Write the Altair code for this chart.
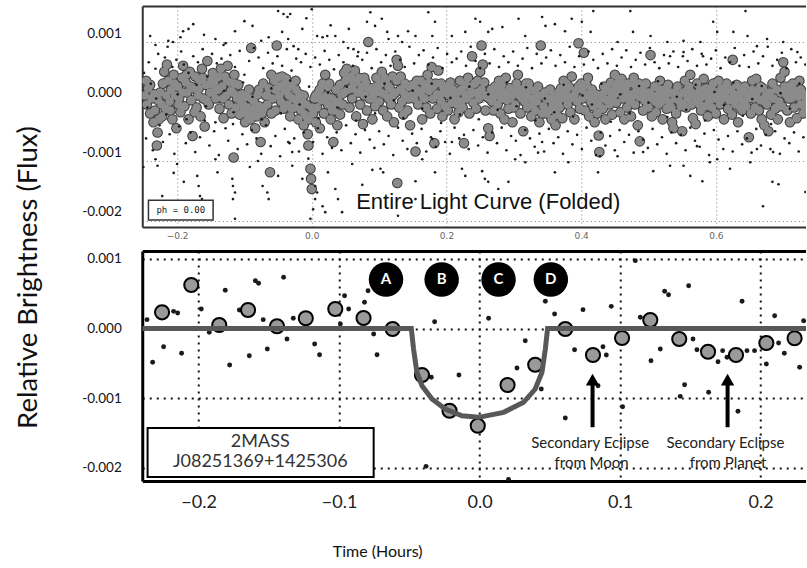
import altair as alt
import pandas as pd

# ---------------- TOP PANEL: entire light curve, folded (phase, flux in units of 0.001) ----------------
top_big = [
    (-0.248, 0.10), (-0.245, -0.05), (-0.243, 0.22), (-0.240, -0.20), (-0.238, 0.05), (-0.235, -0.35),
    (-0.233, -0.15), (-0.230, -0.74), (-0.229, -0.52), (-0.227, -0.30), (-0.225, 0.15), (-0.223, -0.05),
    (-0.221, 0.30), (-0.219, 0.50), (-0.217, -0.12), (-0.215, 0.62), (-0.213, 0.35), (-0.211, 0.00),
    (-0.209, 0.20), (-0.207, -0.30), (-0.205, 0.45), (-0.203, 0.10), (-0.201, -0.45),
    (-0.199, 0.25), (-0.197, 0.05), (-0.195, -0.18), (-0.193, 0.40), (-0.191, 0.60), (-0.189, -0.08),
    (-0.187, 0.32), (-0.185, 0.15), (-0.183, -0.30), (-0.181, 0.50), (-0.179, 0.02), (-0.177, -0.58),
    (-0.175, 0.22), (-0.173, 0.42), (-0.171, -0.10), (-0.169, 0.10), (-0.167, 0.35), (-0.165, -0.25),
    (-0.163, 0.55), (-0.161, 0.05), (-0.159, -0.42), (-0.157, 0.28), (-0.155, 0.68), (-0.153, -0.05),
    (-0.151, 0.15),
    (-0.149, 0.38), (-0.147, 0.48), (-0.145, 0.30), (-0.143, 0.05), (-0.141, 0.40), (-0.139, 0.20),
    (-0.137, -0.12), (-0.135, 0.55), (-0.133, 0.25), (-0.131, -0.28), (-0.129, 0.42), (-0.127, 0.10),
    (-0.125, 0.60), (-0.123, -0.05), (-0.121, 0.32), (-0.119, -0.20), (-0.117, 0.15), (-0.116, -0.94),
    (-0.115, 0.45), (-0.113, -0.10), (-0.111, 0.05), (-0.109, 0.28), (-0.107, -0.22), (-0.105, 0.00),
    (-0.103, 0.12),
    (-0.101, -0.15), (-0.099, -0.35), (-0.097, 0.08), (-0.095, -0.10), (-0.093, 0.20), (-0.091, -0.30),
    (-0.090, 0.90), (-0.088, -0.18), (-0.086, 0.00), (-0.084, -0.45), (-0.082, -0.25), (-0.080, 0.12),
    (-0.078, -0.08), (-0.076, -0.68), (-0.074, -0.20), (-0.072, 0.30), (-0.070, -0.35), (-0.068, 0.10),
    (-0.066, -0.05), (-0.064, 0.22), (-0.062, -1.19), (-0.060, 0.45), (-0.058, 0.05), (-0.056, 0.35),
    (-0.054, -0.15), (-0.052, 0.94), (-0.050, 0.40),
    (-0.048, 0.25), (-0.046, 0.00), (-0.044, 0.42), (-0.042, -0.12), (-0.040, 0.18), (-0.038, 0.38),
    (-0.036, -0.05), (-0.034, 0.10), (-0.032, -0.25), (-0.030, 0.30), (-0.028, 0.05), (-0.026, -0.10),
    (-0.024, 0.20), (-0.022, 0.02), (-0.020, -0.30), (-0.018, 0.12), (-0.016, -0.15), (-0.014, 0.00),
    (-0.012, -0.40), (-0.010, -0.22), (-0.008, -0.05), (-0.006, -0.55), (-0.005, -0.74), (-0.004, -0.30),
    (-0.002, -1.13), (-0.001, -1.30), (0.000, -1.47),
    (0.002, -0.20), (0.004, 0.05), (0.006, -0.35), (0.008, -0.10), (0.010, 0.15), (0.012, -0.45),
    (0.014, 0.02), (0.016, 0.30), (0.018, -0.20), (0.020, 0.45), (0.022, 0.10), (0.024, -0.05),
    (0.026, 0.30), (0.028, -0.30), (0.030, 0.05), (0.032, -0.68), (0.034, -0.15), (0.036, 0.20),
    (0.038, -0.40), (0.040, 0.00), (0.042, -0.22), (0.044, 0.12), (0.046, -0.05), (0.048, 0.48),
    (0.050, 0.35), (0.052, 0.55), (0.054, 0.20), (0.056, -0.10), (0.058, 0.42), (0.060, 0.05),
    (0.062, 0.30), (0.064, 0.52), (0.066, -0.25), (0.068, 0.15), (0.070, 0.40), (0.072, -0.05),
    (0.074, 0.25), (0.076, -0.38), (0.078, 0.10), (0.080, 0.32), (0.082, -0.15), (0.084, 1.00),
    (0.086, 0.05), (0.088, 0.22), (0.090, -0.30), (0.092, 0.12), (0.094, -0.08), (0.096, 0.40),
    (0.098, 0.20),
    (0.100, 0.00), (0.102, 0.30), (0.104, 0.50), (0.106, -0.15), (0.108, 0.12), (0.110, 0.35),
    (0.112, -0.25), (0.114, 0.05), (0.116, 0.22), (0.118, -0.05), (0.120, 0.42), (0.122, -0.35),
    (0.124, 0.15), (0.126, 0.70), (0.127, -1.37), (0.128, 0.60), (0.130, -0.10), (0.132, 0.20),
    (0.134, 0.00), (0.136, -0.22), (0.138, 0.30), (0.140, 0.08), (0.142, -0.15), (0.144, 0.25),
    (0.146, -0.40), (0.148, 0.10),
    (0.150, 0.28), (0.152, 0.05), (0.154, -0.84), (0.156, 0.20), (0.158, -0.05), (0.160, 0.15),
    (0.162, 0.35), (0.164, -0.30), (0.166, 0.05), (0.168, 0.25), (0.170, -0.10), (0.172, 0.45),
    (0.174, 0.18), (0.176, -0.20), (0.178, 0.58), (0.180, 0.05), (0.182, -0.70), (0.184, 0.30),
    (0.186, -0.12), (0.188, 0.52), (0.190, 0.10), (0.192, 0.00), (0.194, -0.25), (0.196, 0.22),
    (0.198, -0.08),
    (0.200, 0.25), (0.202, -0.15), (0.204, 0.10), (0.206, 0.32), (0.208, -0.02), (0.210, 0.20),
    (0.212, -0.30), (0.214, 0.05), (0.216, 0.15), (0.218, -0.18), (0.220, 0.35), (0.222, 0.00),
    (0.224, -0.10), (0.226, -0.70), (0.228, 0.28), (0.230, 0.05), (0.232, 0.40), (0.234, -0.20),
    (0.236, 0.12), (0.238, 0.76), (0.240, -0.02), (0.242, 0.30), (0.244, -0.12), (0.246, 0.15),
    (0.248, 0.05),
    (0.250, 0.50), (0.252, 0.94), (0.254, 0.62), (0.256, 0.32), (0.258, -0.15), (0.260, 0.08),
    (0.262, -0.45), (0.264, -0.58), (0.266, 0.20), (0.268, 0.00), (0.270, -0.15), (0.272, 0.25),
    (0.274, 0.10), (0.276, -0.05), (0.278, 0.35), (0.280, -0.20), (0.282, 0.05), (0.284, 0.15),
    (0.286, -0.30), (0.288, 0.40), (0.290, 0.02), (0.292, -0.12), (0.294, 0.22), (0.296, 0.08),
    (0.298, -0.35),
    (0.300, 0.15), (0.302, -0.05), (0.304, 0.30), (0.306, 0.45), (0.308, 0.10), (0.310, -0.20),
    (0.312, 0.20), (0.314, -0.50), (0.316, 0.00), (0.318, 0.12), (0.320, -0.10), (0.322, 0.30),
    (0.324, 0.05), (0.326, -0.25), (0.328, -0.05), (0.330, 0.18), (0.332, -0.15), (0.334, 0.00),
    (0.336, 0.25), (0.338, -0.35), (0.340, 0.94), (0.342, 0.10), (0.344, -0.08), (0.346, 0.15),
    (0.348, -0.20),
    (0.350, 0.05), (0.352, -0.15), (0.354, 0.20), (0.356, -0.30), (0.358, -0.05), (0.360, 0.10),
    (0.362, -0.40), (0.364, -0.22), (0.366, 0.00), (0.368, -0.10), (0.370, 0.22), (0.372, -0.28),
    (0.374, 0.35), (0.376, 0.05), (0.378, 0.15), (0.380, -0.05), (0.382, 0.25), (0.384, -0.18),
    (0.386, 0.42), (0.388, 0.08), (0.390, -0.30), (0.392, 0.18), (0.394, 0.00), (0.396, 0.98),
    (0.398, -0.12),
    (0.400, 0.30), (0.402, 0.05), (0.404, 0.82), (0.406, -0.15), (0.408, 0.10), (0.410, 0.40),
    (0.412, -0.25), (0.414, 0.00), (0.416, 0.20), (0.418, -0.08), (0.420, -0.35), (0.422, 0.12),
    (0.424, -0.20), (0.426, -0.57), (0.427, -0.85), (0.430, 0.05), (0.432, -0.12), (0.434, 0.25),
    (0.436, -0.30), (0.438, 0.02), (0.440, 0.18), (0.442, -0.05), (0.444, 0.32), (0.446, -0.22),
    (0.448, 0.10),
    (0.450, 0.45), (0.452, -0.02), (0.454, 0.28), (0.456, 0.15), (0.458, -0.18), (0.460, 0.38),
    (0.462, 0.05), (0.464, -0.30), (0.466, 0.20), (0.468, -0.10), (0.470, 0.30), (0.472, 0.00),
    (0.474, -0.25), (0.476, 0.12), (0.478, 0.40), (0.480, -0.05), (0.482, 0.18), (0.484, -0.40),
    (0.486, 0.08), (0.487, -0.67), (0.490, 0.22), (0.492, -0.15), (0.494, 0.02), (0.496, 0.30),
    (0.498, -0.08),
    (0.500, -0.10), (0.502, 0.15), (0.503, 0.78), (0.505, -0.25), (0.507, 0.05), (0.509, 0.25),
    (0.511, -0.18), (0.513, 0.10), (0.515, -0.05), (0.517, 0.35), (0.519, 0.00), (0.521, -0.30),
    (0.523, 0.20), (0.525, 0.08), (0.527, -0.12), (0.529, 0.28), (0.531, -0.02), (0.533, 0.15),
    (0.535, -0.35), (0.537, -0.45), (0.539, 0.05), (0.541, -0.20), (0.543, 0.25), (0.545, 0.10),
    (0.548, -0.08),
    (0.550, -0.50), (0.552, 0.15), (0.554, 0.35), (0.556, -0.10), (0.558, 0.05), (0.560, 0.25),
    (0.562, 0.45), (0.564, -0.05), (0.566, -0.28), (0.568, 0.12), (0.570, -0.38), (0.572, 0.30),
    (0.574, 0.00), (0.576, 0.18), (0.578, -0.15), (0.580, 0.08), (0.582, 0.38), (0.584, -0.08),
    (0.586, 0.22), (0.588, -0.25), (0.590, 0.00), (0.592, 0.12), (0.594, -0.10), (0.596, 0.30),
    (0.598, 0.05),
    (0.600, -0.20), (0.602, 0.15), (0.604, 0.35), (0.606, -0.05), (0.608, 0.22), (0.610, 0.05),
    (0.612, -0.30), (0.614, 0.10), (0.616, 0.30), (0.618, -0.12), (0.620, 0.02), (0.622, 0.20),
    (0.624, -0.22), (0.625, 0.70), (0.627, 0.12), (0.629, -0.05), (0.631, 0.28), (0.633, -0.35),
    (0.635, 0.05), (0.637, 0.18), (0.639, -0.15), (0.641, 0.00), (0.643, 0.25), (0.645, -0.08),
    (0.649, -0.60),
    (0.650, 0.10), (0.652, -0.20), (0.654, 0.35), (0.656, 0.05), (0.658, -0.10), (0.660, 0.38),
    (0.662, 0.18), (0.664, -0.15), (0.666, 0.02), (0.668, -0.30), (0.670, 0.22), (0.672, -0.40),
    (0.674, 0.10), (0.676, -0.05), (0.678, -0.50), (0.680, 0.15), (0.682, -0.22), (0.684, 0.30),
    (0.686, 0.05), (0.688, -0.12), (0.690, 0.20), (0.692, -0.30), (0.694, 0.00), (0.696, 0.40),
    (0.698, -0.08), (0.700, 0.66), (0.702, 0.50), (0.704, 0.12), (0.706, -0.15), (0.708, 0.25),
    (0.710, -0.35), (0.712, 0.05), (0.714, 0.30), (0.716, -0.10), (0.718, 0.18), (0.720, -0.28),
    (0.722, 0.08), (0.724, 0.35), (0.726, -0.05), (0.728, 0.15), (0.730, -0.20), (0.732, 0.10),
    (0.734, 0.02),
]

# further binned points filling the dense core of the band
top_big_core = [
    (-0.246, 0.35), (-0.240, 0.28), (-0.234, 0.12), (-0.228, 0.02), (-0.222, -0.25), (-0.216, 0.10),
    (-0.210, -0.15), (-0.204, 0.30), (-0.198, -0.05), (-0.192, 0.15), (-0.186, 0.45), (-0.180, 0.25),
    (-0.174, -0.18), (-0.168, 0.22), (-0.162, 0.40), (-0.156, 0.02), (-0.150, 0.30), (-0.144, 0.18),
    (-0.138, 0.42), (-0.132, 0.05), (-0.126, 0.35), (-0.120, 0.18), (-0.114, 0.30), (-0.108, 0.10),
    (-0.102, -0.05), (-0.096, -0.22), (-0.090, 0.05), (-0.084, -0.12), (-0.078, 0.20), (-0.072, -0.12),
    (-0.066, 0.10), (-0.060, -0.20), (-0.054, 0.20), (-0.048, 0.10), (-0.042, 0.28), (-0.036, 0.22),
    (-0.030, -0.12), (-0.024, 0.35), (-0.018, -0.10), (-0.012, 0.10), (-0.006, -0.30), (0.000, -0.10),
    (0.006, 0.10), (0.012, 0.20), (0.018, 0.05), (0.024, 0.25), (0.030, -0.15), (0.036, -0.05),
    (0.042, 0.28), (0.048, 0.15), (0.054, 0.40), (0.060, 0.22), (0.066, 0.35), (0.072, 0.15),
    (0.078, 0.40), (0.084, 0.20), (0.090, 0.05), (0.096, 0.25), (0.102, 0.15), (0.108, 0.40),
    (0.114, 0.25), (0.120, 0.10), (0.126, 0.35), (0.132, 0.42), (0.138, 0.12), (0.144, 0.05),
    (0.150, 0.10), (0.156, 0.35), (0.162, 0.15), (0.168, 0.05), (0.174, 0.32), (0.180, 0.25),
    (0.186, 0.12), (0.192, 0.30), (0.198, 0.15), (0.204, 0.25), (0.210, 0.05), (0.216, -0.05),
    (0.222, 0.20), (0.228, 0.12), (0.234, 0.25), (0.240, 0.15), (0.246, 0.35), (0.252, 0.20),
    (0.258, 0.10), (0.264, 0.05), (0.270, 0.10), (0.276, 0.22), (0.282, 0.28), (0.288, 0.15),
    (0.294, 0.05), (0.300, -0.10), (0.306, 0.20), (0.312, 0.05), (0.318, 0.30), (0.324, 0.20),
    (0.330, 0.05), (0.336, 0.10), (0.342, -0.20), (0.348, 0.05), (0.354, 0.05), (0.360, -0.15),
    (0.366, 0.15), (0.372, 0.10), (0.378, 0.30), (0.384, 0.05), (0.390, 0.10), (0.396, 0.25),
    (0.402, 0.20), (0.408, 0.28), (0.414, 0.15), (0.420, 0.05), (0.426, -0.05), (0.432, 0.12),
    (0.438, 0.22), (0.444, 0.05), (0.450, 0.20), (0.456, 0.35), (0.462, 0.25), (0.468, 0.10),
    (0.474, 0.05), (0.480, 0.28), (0.486, 0.30), (0.492, 0.12), (0.498, 0.15), (0.504, 0.05),
    (0.510, 0.00), (0.516, 0.20), (0.522, 0.10), (0.528, 0.15), (0.534, -0.10), (0.540, 0.15),
    (0.546, 0.00), (0.552, -0.05), (0.558, 0.20), (0.564, 0.15), (0.570, 0.05), (0.576, -0.05),
    (0.582, 0.20), (0.588, 0.10), (0.594, 0.20), (0.600, 0.05), (0.606, 0.12), (0.612, 0.15),
    (0.618, 0.20), (0.624, 0.05), (0.630, 0.10), (0.636, -0.10), (0.642, 0.15), (0.648, 0.05),
    (0.654, 0.20), (0.660, 0.10), (0.666, 0.25), (0.672, 0.00), (0.678, 0.10), (0.684, 0.05),
    (0.690, -0.10), (0.696, 0.15), (0.702, 0.25), (0.708, 0.05), (0.714, 0.15), (0.720, 0.10),
    (0.726, 0.20), (0.732, -0.10),
]

top_small = [
    # dots rimming the band
    (-0.249, 0.48), (-0.246, -0.62), (-0.242, 0.66), (-0.239, 0.30), (-0.236, -0.82), (-0.232, 0.55),
    (-0.228, 0.80), (-0.226, -0.40), (-0.221, -0.68), (-0.218, 0.74), (-0.214, 0.92), (-0.211, -0.55),
    (-0.207, 0.58), (-0.204, -0.88), (-0.201, 0.70), (-0.197, -0.42), (-0.194, 0.84), (-0.190, 0.62),
    (-0.187, -0.70), (-0.183, 0.48), (-0.180, -0.52), (-0.176, 0.76), (-0.173, -0.85), (-0.169, 0.66),
    (-0.166, -0.60), (-0.162, 0.88), (-0.159, -0.32), (-0.155, 0.42), (-0.152, -0.74), (-0.148, 0.80),
    (-0.145, -0.50), (-0.141, 0.64), (-0.138, -0.90), (-0.134, 0.72), (-0.131, 0.95), (-0.128, -0.45),
    (-0.124, -0.66), (-0.121, 0.78), (-0.117, -0.38), (-0.114, 0.58), (-0.110, -0.80), (-0.107, 0.85),
    (-0.103, -0.55), (-0.100, 0.45), (-0.096, -0.72), (-0.093, 0.68), (-0.089, -0.48), (-0.086, 0.90),
    (-0.082, -0.62), (-0.079, 0.74), (-0.075, -0.88), (-0.072, 0.56), (-0.068, -0.40), (-0.065, 0.82),
    (-0.061, -0.75), (-0.058, 0.64), (-0.054, -0.58), (-0.051, 0.76), (-0.047, -0.92), (-0.044, 0.60),
    (-0.040, -0.46), (-0.037, 0.88), (-0.033, -0.70), (-0.030, 0.52), (-0.026, -0.62), (-0.023, 0.72),
    (-0.019, -0.84), (-0.016, 0.66), (-0.012, -0.52), (-0.009, 0.80), (-0.005, -0.96), (-0.002, 0.58),
    (0.002, -0.68), (0.005, 0.74), (0.009, -0.45), (0.012, 0.62), (0.016, -0.88), (0.019, 0.85),
    (0.023, -0.60), (0.026, 0.70), (0.030, -0.78), (0.033, 0.54), (0.037, -0.52), (0.040, 0.78),
    (0.044, -0.82), (0.047, 0.66), (0.051, -0.40), (0.054, 0.90), (0.058, -0.70), (0.061, 0.60),
    (0.065, -0.55), (0.068, 0.76), (0.072, -0.86), (0.075, 0.70), (0.079, -0.48), (0.082, 0.82),
    (0.086, -0.64), (0.089, 0.56), (0.093, -0.78), (0.096, 0.88), (0.100, -0.50), (0.103, 0.66),
    (0.107, -0.72), (0.110, 0.78), (0.114, -0.58), (0.117, 0.60), (0.121, -0.90), (0.124, 0.84),
    (0.128, -0.44), (0.131, 0.70), (0.135, -0.66), (0.138, 0.58), (0.142, -0.80), (0.145, 0.92),
    (0.149, -0.54), (0.152, 0.64), (0.156, -0.70), (0.159, 0.78), (0.163, -0.46), (0.166, 0.86),
    (0.170, -0.84), (0.173, 0.62), (0.177, -0.60), (0.180, 0.74), (0.184, -0.76), (0.187, 0.90),
    (0.191, -0.50), (0.194, 0.56), (0.198, -0.68), (0.201, 0.80), (0.205, -0.88), (0.208, 0.66),
    (0.212, -0.44), (0.215, 0.72), (0.219, -0.62), (0.222, 0.84), (0.226, -0.56), (0.229, 0.60),
    (0.233, -0.80), (0.236, 0.92), (0.240, -0.48), (0.243, 0.68), (0.247, -0.74), (0.250, 0.56),
    (0.254, -0.60), (0.257, 0.80), (0.261, -0.86), (0.264, 0.64), (0.268, -0.52), (0.271, 0.88),
    (0.275, -0.70), (0.278, 0.58), (0.282, -0.44), (0.285, 0.76), (0.289, -0.82), (0.292, 0.66),
    (0.296, -0.58), (0.299, 0.84), (0.303, -0.66), (0.306, 0.60), (0.310, -0.90), (0.313, 0.72),
    (0.317, -0.48), (0.320, 0.90), (0.324, -0.62), (0.327, 0.56), (0.331, -0.76), (0.334, 0.80),
    (0.338, -0.54), (0.341, 0.64), (0.345, -0.84), (0.348, 0.74), (0.352, -0.46), (0.355, 0.86),
    (0.359, -0.70), (0.362, 0.60), (0.366, -0.60), (0.369, 0.78), (0.373, -0.88), (0.376, 0.66),
    (0.380, -0.50), (0.383, 0.92), (0.387, -0.72), (0.390, 0.58), (0.394, -0.56), (0.397, 0.76),
    (0.401, -0.80), (0.404, 0.62), (0.408, -0.44), (0.411, 0.84), (0.415, -0.66), (0.418, 0.70),
    (0.422, -0.90), (0.425, 0.56), (0.429, -0.52), (0.432, 0.80), (0.436, -0.74), (0.439, 0.64),
    (0.443, -0.58), (0.446, 0.88), (0.450, -0.82), (0.453, 0.60), (0.457, -0.48), (0.460, 0.74),
    (0.464, -0.68), (0.467, 0.86), (0.471, -0.56), (0.474, 0.58), (0.478, -0.86), (0.481, 0.70),
    (0.485, -0.50), (0.488, 0.82), (0.492, -0.64), (0.495, 0.62), (0.499, -0.78), (0.502, 0.90),
    (0.506, -0.46), (0.509, 0.66), (0.513, -0.72), (0.516, 0.56), (0.520, -0.60), (0.523, 0.78),
    (0.527, -0.88), (0.530, 0.64), (0.534, -0.52), (0.537, 0.84), (0.541, -0.70), (0.544, 0.58),
    (0.548, -0.56), (0.551, 0.76), (0.555, -0.82), (0.558, 0.68), (0.562, -0.44), (0.565, 0.88),
    (0.569, -0.66), (0.572, 0.60), (0.576, -0.76), (0.579, 0.80), (0.583, -0.54), (0.586, 0.62),
    (0.590, -0.90), (0.593, 0.72), (0.597, -0.48), (0.600, 0.86), (0.604, -0.64), (0.607, 0.56),
    (0.611, -0.80), (0.614, 0.74), (0.618, -0.58), (0.621, 0.66), (0.625, -0.84), (0.628, 0.90),
    (0.632, -0.50), (0.635, 0.60), (0.639, -0.72), (0.642, 0.78), (0.646, -0.62), (0.649, 0.58),
    (0.653, -0.86), (0.656, 0.84), (0.660, -0.46), (0.663, 0.64), (0.667, -0.74), (0.670, 0.76),
    (0.674, -0.56), (0.677, 0.92), (0.681, -0.80), (0.684, 0.60), (0.688, -0.50), (0.691, 0.70),
    (0.695, -0.88), (0.698, 0.82), (0.702, -0.62), (0.705, 0.56), (0.709, -0.70), (0.712, 0.88),
    (0.716, -0.52), (0.719, 0.66), (0.723, -0.84), (0.726, 0.74), (0.730, -0.60), (0.733, 0.62),
    # dots inside the band
    (-0.244, -0.10), (-0.231, 0.05), (-0.216, -0.22), (-0.199, 0.12), (-0.186, -0.30), (-0.171, 0.28),
    (-0.157, -0.08), (-0.143, -0.35), (-0.130, 0.18), (-0.116, -0.18), (-0.102, 0.32), (-0.088, 0.08),
    (-0.074, -0.30), (-0.060, 0.22), (-0.046, -0.20), (-0.032, 0.35), (-0.018, -0.05), (-0.004, 0.25),
    (0.010, -0.28), (0.024, 0.15), (0.038, -0.10), (0.052, 0.25), (0.066, -0.32), (0.080, 0.08),
    (0.094, -0.20), (0.108, 0.30), (0.122, 0.02), (0.136, -0.28), (0.150, 0.18), (0.164, -0.12),
    (0.178, 0.30), (0.192, -0.36), (0.206, 0.06), (0.220, -0.22), (0.234, 0.25), (0.248, -0.30),
    (0.262, 0.12), (0.276, -0.14), (0.290, 0.32), (0.304, -0.08), (0.318, 0.24), (0.332, -0.32),
    (0.346, 0.05), (0.360, -0.18), (0.374, 0.28), (0.388, -0.25), (0.402, 0.10), (0.416, -0.05),
    (0.430, 0.30), (0.444, -0.34), (0.458, 0.12), (0.472, -0.20), (0.486, 0.26), (0.500, -0.02),
    (0.514, 0.34), (0.528, -0.26), (0.542, 0.08), (0.556, -0.14), (0.570, 0.28), (0.584, -0.32),
    (0.598, 0.16), (0.612, -0.06), (0.626, 0.32), (0.640, -0.24), (0.654, 0.04), (0.668, 0.26),
    (0.682, -0.38), (0.696, 0.14), (0.710, -0.12), (0.724, 0.30),
    # scattered dots above the band
    (-0.240, 1.10), (-0.232, 0.95), (-0.213, 1.02), (-0.206, 1.00), (-0.195, 1.08), (-0.191, 1.18),
    (-0.183, 1.22), (-0.176, 1.30), (-0.160, 1.12), (-0.143, 1.05), (-0.128, 0.98), (-0.114, 1.18),
    (-0.100, 1.35), (-0.088, 1.27), (-0.075, 1.02), (-0.064, 1.08), (-0.050, 1.52), (-0.044, 1.17),
    (-0.042, 1.47), (-0.036, 1.42), (-0.035, 1.05), (-0.032, 1.47), (-0.027, 0.93), (-0.020, 0.88),
    (-0.014, 1.22), (-0.008, 1.40), (0.000, 1.55), (0.008, 1.10), (0.016, 1.08), (0.023, 1.10),
    (0.028, 1.28), (0.035, 1.10), (0.047, 1.00), (0.055, 1.22), (0.062, 0.88), (0.069, 0.83),
    (0.082, 1.34), (0.087, 1.50), (0.094, 1.27), (0.104, 1.39), (0.112, 1.17), (0.114, 1.05),
    (0.128, 1.10), (0.134, 1.00), (0.143, 1.18), (0.154, 1.10), (0.173, 1.50), (0.179, 1.10),
    (0.183, 1.34), (0.208, 1.10), (0.228, 1.17), (0.243, 1.39), (0.250, 1.34), (0.262, 1.17),
    (0.268, 1.22), (0.283, 1.25), (0.307, 1.39), (0.317, 1.10), (0.342, 1.42), (0.347, 1.27),
    (0.361, 1.30), (0.376, 1.18), (0.386, 1.39), (0.401, 1.34), (0.414, 1.17), (0.418, 1.52),
    (0.454, 1.00), (0.473, 1.52), (0.477, 1.17), (0.503, 1.10), (0.528, 1.00), (0.532, 0.76),
    (0.552, 1.02), (0.552, 0.83), (0.577, 1.00), (0.581, 0.76), (0.596, 1.34), (0.602, 1.17),
    (0.626, 1.17), (0.644, 1.52), (0.647, 1.10), (0.661, 0.93), (0.676, 1.05), (0.700, 1.00),
    (0.721, 0.83),
    # scattered dots below the band
    (-0.250, -1.10), (-0.232, -0.97), (-0.229, -1.08), (-0.225, -1.70), (-0.222, -1.59), (-0.205, -1.20),
    (-0.200, -1.05), (-0.190, -1.35), (-0.170, -1.25), (-0.168, -1.42), (-0.166, -1.59), (-0.163, -1.64),
    (-0.143, -0.97), (-0.140, -1.19), (-0.118, -1.30), (-0.117, -1.42), (-0.114, -1.53), (-0.117, -1.64),
    (-0.114, -1.97), (-0.092, -1.10), (-0.080, -1.00), (-0.073, -1.42), (-0.066, -1.53), (-0.064, -1.64),
    (-0.050, -1.25), (-0.035, -0.68), (-0.029, -0.85), (-0.029, -1.08), (-0.014, -1.30), (-0.002, -1.97),
    (0.002, -1.81), (0.005, -1.42), (0.008, -1.53), (0.005, -1.64), (0.016, -1.76), (0.020, -1.86),
    (0.024, -1.19), (0.035, -1.47), (0.039, -1.64), (0.045, -1.86), (0.060, -1.05), (0.075, -1.40),
    (0.090, -1.15), (0.102, -1.13), (0.106, -1.19), (0.128, -1.92), (0.154, -1.34), (0.154, -1.64),
    (0.164, -0.97), (0.179, -0.63), (0.183, -1.19), (0.208, -0.68), (0.223, -1.13), (0.228, -1.25),
    (0.253, -1.17), (0.257, -1.30), (0.262, -1.35), (0.277, -1.47), (0.292, -1.35), (0.302, -0.97),
    (0.317, -1.02), (0.336, -0.86), (0.342, -0.68), (0.361, -1.19), (0.381, -1.02), (0.425, -1.19),
    (0.428, -0.92), (0.454, -0.92), (0.492, -0.85), (0.507, -1.17), (0.532, -1.08), (0.552, -1.08),
    (0.562, -1.25), (0.572, -0.75), (0.580, -1.34), (0.591, -1.02), (0.602, -0.97), (0.621, -1.13),
    (0.651, -1.02), (0.661, -0.80), (0.670, -1.76), (0.684, -1.35), (0.685, -0.85), (0.693, -1.39),
    (0.733, -1.52),
]

# annotation boxes / labels of the top panel
ph_box = [(-0.2425, -0.1465, -1.66, -1.99)]
ph_label = [(-0.1945, -1.83, "ph = 0.00")]
top_caption = [(0.262, -1.69, "Entire Light Curve (Folded)")]

# ---------------- BOTTOM PANEL: transit (hours, flux in units of 0.001) ----------------
bot_big = [
    (-0.2260, 0.233), (-0.2052, 0.626), (-0.1853, 0.050), (-0.1648, 0.266), (-0.1442, 0.032),
    (-0.1237, 0.148), (-0.1027, 0.281), (-0.0826, 0.151), (-0.0619, -0.007), (-0.0410, -0.669),
    (-0.0214, -1.183), (-0.0013, -1.399), (0.0199, -0.813), (0.0396, -0.521), (0.0610, -0.007),
    (0.0807, -0.381), (0.1014, -0.137), (0.1215, 0.122), (0.1421, -0.151), (0.1626, -0.334),
    (0.1825, -0.381), (0.2041, -0.209), (0.2242, -0.141),
]

bot_small = [
    (-0.2367, 0.127), (-0.2327, -0.486), (-0.2249, -0.262), (-0.2178, 0.247), (-0.2149, 0.223),
    (-0.2121, -0.357), (-0.1981, 0.281), (-0.1924, -0.055), (-0.1810, 0.550), (-0.1779, -0.525),
    (-0.1710, 0.266), (-0.1639, -0.391), (-0.1596, 0.688), (-0.1573, 0.650), (-0.1540, 0.127),
    (-0.1511, -0.295), (-0.1395, 0.737), (-0.1371, -0.151), (-0.1326, 0.147), (-0.1174, -0.223),
    (-0.1139, -0.377), (-0.0991, 0.065), (-0.0961, 0.472), (-0.0932, 0.281), (-0.0819, 0.377),
    (-0.0794, 0.544), (-0.0754, -0.079), (-0.0730, -0.377), (-0.0381, -1.983), (-0.0344, -0.702),
    (-0.0320, 0.098), (-0.0147, -0.669), (0.0064, 0.147), (0.0206, -2.170), (0.0266, -0.568),
    (0.0325, -0.176), (0.0439, -0.871), (0.0468, 0.391), (0.0534, 0.209), (0.0610, -1.288),
    (0.0676, -0.305), (0.0736, 0.271), (0.0843, -0.823), (0.0878, -0.262), (0.0902, -0.381),
    (0.0937, 0.319), (0.1018, -1.125), (0.1108, 0.976), (0.1144, 0.161), (0.1220, -0.463),
    (0.1286, -0.295), (0.1317, 0.535), (0.1345, 0.486), (0.1428, -0.976), (0.1459, -0.809),
    (0.1488, 0.616), (0.1519, -0.151), (0.1547, -0.305), (0.1630, -0.918), (0.1697, -0.478),
    (0.1730, -0.319), (0.1761, -0.414), (0.1839, -1.191), (0.1868, 0.391), (0.1903, -0.319),
    (0.1957, -0.319), (0.2041, -0.511), (0.2100, 0.184), (0.2128, -0.209), (0.2169, -0.357),
    (0.2278, -0.558), (0.2306, 0.112),
]

model_t = [-0.2401, -0.0486, -0.0470, -0.0446, -0.0410, -0.0339, -0.0244, -0.0125, -0.0007,
           0.0171, 0.0313, 0.0396, 0.0444, 0.0468, 0.0484, 0.2332]
model_f = [0.0, 0.0, -0.295, -0.630, -0.823, -1.014, -1.158, -1.255, -1.278,
           -1.206, -1.062, -0.871, -0.630, -0.295, 0.0, 0.0]

contact_labels = ["A", "B", "C", "D"]
contact_t = [-0.0666, -0.0270, 0.0135, 0.0507]
contact_f = [0.705, 0.705, 0.705, 0.705]

arrow_t = [0.0804, 0.1765]
arrow_top = [-0.76, -0.76]
arrow_bottom = [-1.42, -1.42]
arrow_head = [-0.735, -0.735]
arrow_text = [
    (0.0787, -1.647, "Secondary Eclipse"), (0.0797, -1.935, "from Moon"),
    (0.1750, -1.647, "Secondary Eclipse"), (0.1768, -1.935, "from Planet"),
]
star_box = [(-0.2363, -0.0754, -1.432, -2.137)]
star_text = [(-0.1561, -1.633, "2MASS"), (-0.1561, -1.921, "J08251369+1425306")]

# ---------------- data frames ----------------
df_tb = pd.DataFrame(top_big + top_big_core, columns=["t", "f"])
df_ts = pd.DataFrame(top_small, columns=["t", "f"])
df_phb = pd.DataFrame(ph_box, columns=["t", "t2", "f", "f2"])
df_phl = pd.DataFrame(ph_label, columns=["t", "f", "s"])
df_cap = pd.DataFrame(top_caption, columns=["t", "f", "s"])

df_bb = pd.DataFrame(bot_big, columns=["t", "f"])
df_bs = pd.DataFrame(bot_small, columns=["t", "f"])
df_model = pd.DataFrame({"t": model_t, "f": model_f})
df_contact = pd.DataFrame({"t": contact_t, "f": contact_f, "s": contact_labels})
df_arrow = pd.DataFrame({"t": arrow_t, "f": arrow_top, "f2": arrow_bottom, "fh": arrow_head})
df_atext = pd.DataFrame(arrow_text, columns=["t", "f", "s"])
df_sbox = pd.DataFrame(star_box, columns=["t", "t2", "f", "f2"])
df_stext = pd.DataFrame(star_text, columns=["t", "f", "s"])

W = 664
label_expr = "(datum.value < 0 ? '-' : '') + format(abs(datum.value) / 1000, '.3f')"

# ---------------- top panel ----------------
txs = alt.Scale(domain=[-0.2517, -0.2517 + W / 673.5], nice=False, zero=False)
tys = alt.Scale(domain=[-2.109, 1.605], nice=False, zero=False)

top_x_axis = alt.Axis(values=[-0.2, 0.0, 0.2, 0.4, 0.6], format=".1f", title=None,
                      labelFont="DejaVu Sans", labelFontSize=9, labelColor="#666",
                      ticks=False, tickSize=0, labelPadding=4, grid=True, gridDash=[1, 3],
                      gridColor="#777", gridWidth=1, domainColor="#333", domainWidth=2)
top_y_axis = alt.Axis(values=[1, 0, -1, -2], labelExpr=label_expr, title=None,
                      labelFont="Lato", labelFontSize=13.5, labelColor="#111", ticks=False,
                      tickSize=0, labelPadding=21, labelOffset=-9, grid=True, gridDash=[1, 3],
                      gridColor="#777", gridWidth=1, domainColor="#333", domainWidth=2)
top_frame_axis = alt.Axis(orient="top", labels=False, ticks=False, grid=False, title=None,
                          domainColor="#333", domainWidth=2)

def tx(field="t", axis=None):
    return alt.X(f"{field}:Q", scale=txs, axis=axis)

def ty(field="f", axis=None):
    return alt.Y(f"{field}:Q", scale=tys, axis=axis)

top_outline = alt.Chart(df_tb).mark_circle(size=112, color="#3a3a3a", opacity=1, clip=True).encode(
    x=tx(axis=top_frame_axis), y=ty())
top_fill = alt.Chart(df_tb).mark_circle(size=74, color="#8b8b8b", opacity=1, clip=True).encode(
    x=tx(), y=ty())
top_dots = alt.Chart(df_ts).mark_circle(size=7, color="#1c1c1c", opacity=1, clip=True).encode(
    x=tx(axis=top_x_axis), y=ty(axis=top_y_axis))
top_phbox = alt.Chart(df_phb).mark_rect(fill="white", stroke="#333", strokeWidth=1.5).encode(
    x=tx(), x2="t2:Q", y=ty(), y2="f2:Q")
top_phtext = alt.Chart(df_phl).mark_text(font="DejaVu Sans Mono", fontSize=9, color="#222").encode(
    x=tx(), y=ty(), text="s:N")
top_captext = alt.Chart(df_cap).mark_text(font="Liberation Sans", fontSize=22, color="#111").encode(
    x=tx(), y=ty(), text="s:N")

top_panel = alt.layer(top_outline, top_fill, top_dots, top_phbox, top_phtext, top_captext).resolve_axis(
    x="independent", y="independent").properties(width=W, height=221)

# ---------------- bottom panel ----------------
bxs = alt.Scale(domain=[-0.2401, -0.2401 + W / 1405.0], nice=False, zero=False)
bys = alt.Scale(domain=[-2.194, 1.115], nice=False, zero=False)

bot_x_axis = alt.Axis(values=[-0.2, -0.1, 0.0, 0.1, 0.2], format=".1f", title="Time (Hours)",
                      labelFont="Lato", labelFontSize=18, labelColor="#222", ticks=False, tickSize=0,
                      labelPadding=12, grid=True, gridDash=[2, 5], gridColor="#111", gridWidth=2,
                      domainColor="#000", domainWidth=3, titleFont="Lato", titleFontSize=16,
                      titleFontWeight="normal", titleColor="#111", titleX=235, titleY=70,
                      titleBaseline="middle")
bot_y_axis = alt.Axis(values=[1, 0, -1, -2], labelExpr=label_expr, title="Relative Brightness (Flux)",
                      labelFont="Lato", labelFontSize=13.5, labelColor="#111", ticks=False, tickSize=0,
                      labelPadding=21, grid=True, gridDash=[2, 5], gridColor="#111", gridWidth=2,
                      domainColor="#000", domainWidth=3, titleFont="Lato", titleFontSize=27.5,
                      titleFontWeight="normal", titleColor="#111", titleAngle=270, titleX=-114,
                      titleY=26, titleBaseline="middle", titleAlign="center")
bot_frame_axis = alt.Axis(orient="top", labels=False, ticks=False, grid=False, title=None,
                          domainColor="#000", domainWidth=3)

def bx(field="t", axis=None):
    return alt.X(f"{field}:Q", scale=bxs, axis=axis)

def by(field="f", axis=None):
    return alt.Y(f"{field}:Q", scale=bys, axis=axis)

b_dots = alt.Chart(df_bs).mark_circle(size=24, color="#1a1a1a", opacity=1, clip=True).encode(
    x=bx(axis=bot_x_axis), y=by(axis=bot_y_axis))
b_big = alt.Chart(df_bb).mark_circle(size=200, fill="#9a9a9a", stroke="#000", strokeWidth=2,
                                     opacity=1, clip=True).encode(x=bx(axis=bot_frame_axis), y=by())
b_model = alt.Chart(df_model).mark_line(color="#585858", strokeWidth=5, clip=True).encode(
    x=bx(), y=by(), order="t:Q")
b_cc = alt.Chart(df_contact).mark_circle(size=1190, color="#000", opacity=1).encode(x=bx(), y=by())
b_ct = alt.Chart(df_contact).mark_text(font="Lato", fontSize=15, fontWeight="bold", color="white").encode(
    x=bx(), y=by(), text="s:N")
b_shaft = alt.Chart(df_arrow).mark_rule(color="#000", strokeWidth=4).encode(x=bx(), y=by(), y2="f2:Q")
b_head = alt.Chart(df_arrow).mark_point(shape="triangle-up", filled=True, size=180, color="#000",
                                        opacity=1).encode(x=bx(), y=by("fh"))
b_atext = alt.Chart(df_atext).mark_text(font="Lato", fontSize=15, color="#222").encode(
    x=bx(), y=by(), text="s:N")
b_sbox = alt.Chart(df_sbox).mark_rect(fill="white", stroke="#000", strokeWidth=2).encode(
    x=bx(), x2="t2:Q", y=by(), y2="f2:Q")
b_stext = alt.Chart(df_stext).mark_text(font="Lato", fontSize=18, color="#333").encode(
    x=bx(), y=by(), text="s:N")

bottom_panel = alt.layer(b_dots, b_big, b_model, b_cc, b_ct, b_shaft, b_head, b_atext, b_sbox,
                         b_stext).resolve_axis(x="independent", y="independent").properties(
    width=W, height=230)

chart = alt.vconcat(top_panel, bottom_panel, spacing=24, bounds="flush").properties(
    padding={"left": 14.25, "top": 6, "right": 0, "bottom": 0}, background="white"
).configure_view(stroke=None)

chart.save("out.html", embed_options={"renderer": "svg", "actions": False})
